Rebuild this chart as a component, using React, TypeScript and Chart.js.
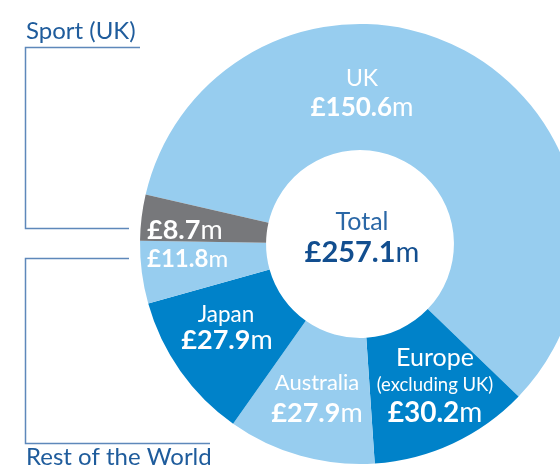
import React, { useEffect, useRef } from "react";
import { Chart, registerables } from "chart.js";

Chart.register(...registerables);

const regions = ["UK", "Europe", "Australia", "Japan", "Rest", "Sport (UK)"];
const revenue = [150.6, 30.2, 27.9, 27.9, 11.8, 8.7];
const sliceColors = ["#97CDEF", "#0082C9", "#97CDEF", "#0082C9", "#97CDEF", "#77787B"];
const totalValue = 257.1;

const FONT = "Lato, 'Open Sans', sans-serif";

type Part = { t: string; bold: boolean; size: number };

function drawRich(ctx: CanvasRenderingContext2D, parts: Part[], x: number, y: number, align: "center" | "left", color: string) {
  let w = 0;
  const widths: number[] = [];
  for (const p of parts) {
    ctx.font = `${p.bold ? "bold" : "normal"} ${p.size}px ${FONT}`;
    const m = ctx.measureText(p.t).width;
    widths.push(m);
    w += m;
  }
  let cx = align === "center" ? x - w / 2 : x;
  ctx.fillStyle = color;
  ctx.textBaseline = "middle";
  ctx.textAlign = "left";
  parts.forEach((p, i) => {
    ctx.font = `${p.bold ? "bold" : "normal"} ${p.size}px ${FONT}`;
    ctx.fillText(p.t, cx, y);
    cx += widths[i];
  });
}

const money = (v: number, size: number): Part[] => [
  { t: `£${v.toFixed(1)}`, bold: true, size },
  { t: "m", bold: false, size },
];

const labelPlugin = {
  id: "labels",
  afterDraw(chart: any) {
    const ctx: CanvasRenderingContext2D = chart.ctx;
    const arc = chart.getDatasetMeta(0).data[0];
    const cx = arc.x;
    const cy = arc.y;
    ctx.save();
    const W = "#FFFFFF";
    // UK
    drawRich(ctx, [{ t: regions[0], bold: false, size: 23 }], cx + 2, 79, "center", W);
    drawRich(ctx, money(revenue[0], 26), cx + 2, 108, "center", W);
    // Europe
    drawRich(ctx, [{ t: regions[1], bold: false, size: 25 }], cx + 75, 358, "center", W);
    drawRich(ctx, [{ t: "(excluding UK)", bold: false, size: 18.5 }], cx + 75, 385, "center", W);
    drawRich(ctx, money(revenue[1], 28), cx + 75, 413, "center", W);
    // Australia
    drawRich(ctx, [{ t: regions[2], bold: false, size: 22 }], cx - 43, 383, "center", W);
    drawRich(ctx, money(revenue[2], 27), cx - 43, 413, "center", W);
    // Japan
    drawRich(ctx, [{ t: regions[3], bold: false, size: 22.5 }], cx - 134, 315, "center", W);
    drawRich(ctx, money(revenue[3], 27), cx - 133, 340, "center", W);
    // Rest small
    drawRich(ctx, money(revenue[4], 24), cx - 213, 259, "left", W);
    // Sport
    drawRich(ctx, money(revenue[5], 27), cx - 213, 230, "left", W);
    // Total
    drawRich(ctx, [{ t: "Total", bold: false, size: 25 }], cx + 2, 222, "center", "#2A67A6");
    drawRich(ctx, money(totalValue, 29), cx + 2, 253, "center", "#124E8F");

    // Brackets
    ctx.strokeStyle = "#5E88BA";
    ctx.lineWidth = 1.5;
    ctx.beginPath();
    ctx.moveTo(140, 47.5);
    ctx.lineTo(25.5, 47.5);
    ctx.lineTo(25.5, 228.5);
    ctx.lineTo(129, 228.5);
    ctx.moveTo(129, 258.5);
    ctx.lineTo(25.5, 258.5);
    ctx.lineTo(25.5, 443.5);
    ctx.lineTo(210, 443.5);
    ctx.stroke();
    drawRich(ctx, [{ t: "Sport (UK)", bold: false, size: 24 }], 26, 31, "left", "#1F5C9C");
    drawRich(ctx, [{ t: "Rest of the World", bold: false, size: 24 }], 26, 457, "left", "#1F5C9C");
    ctx.restore();
  },
};

export default function App() {
  const ref = useRef<HTMLCanvasElement | null>(null);
  useEffect(() => {
    if (!ref.current) return;
    const chart = new Chart(ref.current, {
      type: "doughnut",
      data: {
        labels: regions,
        datasets: [
          {
            data: revenue,
            backgroundColor: sliceColors,
            borderWidth: 0,
          },
        ],
      },
      options: {
        animation: false,
        responsive: false,
        rotation: 283,
        radius: 220,
        cutout: "42.7%",
        layout: { padding: { left: 160, right: 0, top: 22, bottom: 0 } },
        plugins: { legend: { display: false }, tooltip: { enabled: false } },
        events: [],
      },
      plugins: [labelPlugin],
    });
    return () => chart.destroy();
  }, []);
  return (
    <div style={{ position: "fixed", left: 0, top: 0, width: 560, height: 466, overflow: "hidden", background: "#fff" }}>
      <canvas ref={ref} width={560} height={466} style={{ display: "block" }} />
    </div>
  );
}
